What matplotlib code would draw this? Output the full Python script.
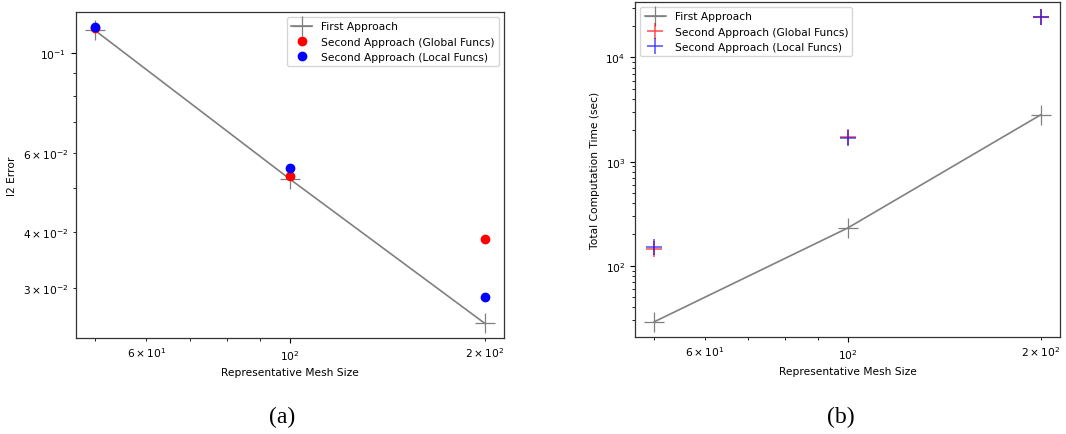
import numpy as np
import matplotlib
matplotlib.use('Agg')
import matplotlib.pyplot as plt

# mesh sizes
mesh = [50, 100, 200]

# l2 error
err_first = [0.1121, 0.0524, 0.02506]
err_global = [0.1135, 0.0533, 0.0386]
err_local = [0.1144, 0.0554, 0.02866]

# total computation time (sec)
time_first = [29, 230, 2812]
time_global = [145, 1717, 24500]
time_local = [150, 1700, 24250]

plt.rcParams['font.size'] = 7.7
plt.rcParams['axes.linewidth'] = 0.9

fig = plt.figure(figsize=(10.66, 4.35), dpi=100)
W, H = 1066, 435

# (a) error
ax1 = fig.add_axes([75.7 / W, 1 - 339 / H, (504 - 75.7) / W, (339 - 12.7) / H])
ax1.plot(mesh, err_first, color='grey', marker='+', markersize=15, lw=1.2,
         markeredgewidth=0.9, label='First Approach')
ax1.plot(mesh, err_global, 'o', color='red', markersize=6, label='Second Approach (Global Funcs)')
ax1.plot(mesh, err_local, 'o', color='blue', markersize=6, label='Second Approach (Local Funcs)')
ax1.set_xscale('log')
ax1.set_yscale('log')
ax1.set_xlabel('Representative Mesh Size')
ax1.set_ylabel('l2 Error')
ax1.legend(loc='upper right')

# (b) computation time
ax2 = fig.add_axes([635 / W, 1 - 338 / H, (1060 - 635) / W, (338 - 2.7) / H])
ax2.plot(mesh, time_first, color='grey', marker='+', markersize=15, lw=1.2,
         markeredgewidth=0.9, label='First Approach')
ax2.plot(mesh, time_global, '+', color='red', alpha=0.7, markersize=11,
         markeredgewidth=1.1, label='Second Approach (Global Funcs)')
ax2.plot(mesh, time_local, '+', color='blue', alpha=0.7, markersize=11,
         markeredgewidth=1.1, label='Second Approach (Local Funcs)')
ax2.set_xscale('log')
ax2.set_yscale('log')
ax2.set_xlabel('Representative Mesh Size')
ax2.set_ylabel('Total Computation Time (sec)')
ax2.legend(loc='upper left')

for ax in (ax1, ax2):
    for s in ax.spines.values():
        s.set_color('#333333')

fig.text(282 / W, 1 - 417 / H, '(a)', ha='center', va='center',
         fontsize=17, family='Liberation Serif')
fig.text(841 / W, 1 - 417 / H, '(b)', ha='center', va='center',
         fontsize=17, family='Liberation Serif')

fig.savefig('out.png', dpi=100)
